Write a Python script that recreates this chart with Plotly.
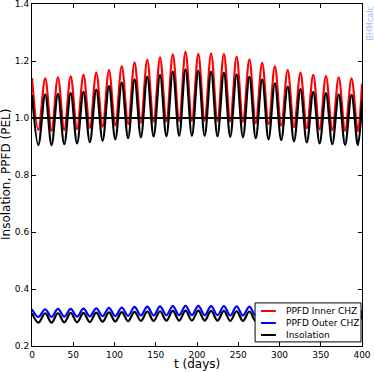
import plotly.graph_objects as go

# times of the peaks and troughs of the oscillation (days)
peak_t = [0.0, 16.0, 31.4, 46.9, 62.4, 77.9, 93.3, 108.8, 124.3, 139.7, 155.2, 170.7, 186.1,
          201.6, 217.1, 232.6, 248.0, 263.5, 279.0, 294.4, 309.9, 325.4, 340.9, 356.3, 371.8, 387.3]
trough_t = [7.7, 23.7, 39.1, 54.6, 70.1, 85.6, 101.0, 116.5, 132.0, 147.4, 162.9, 178.4, 193.8,
            209.3, 224.8, 240.3, 255.7, 271.2, 286.7, 302.1, 317.6, 333.1, 348.6, 364.0, 379.5, 395.0]
end_t = 400.0

# PPFD inner CHZ (red)
inner_peak = [1.140, 1.139, 1.143, 1.146, 1.151, 1.159, 1.168, 1.182, 1.195, 1.205, 1.213, 1.223, 1.233,
              1.225, 1.227, 1.225, 1.215, 1.206, 1.194, 1.182, 1.168, 1.159, 1.151, 1.147, 1.143, 1.139]
inner_trough = [0.958, 0.955, 0.958, 0.961, 0.965, 0.970, 0.974, 0.979, 0.983, 0.986, 0.988, 0.989, 0.990,
                0.990, 0.989, 0.988, 0.986, 0.982, 0.978, 0.973, 0.968, 0.964, 0.960, 0.957, 0.955, 0.954]
inner_end = 1.12

# insolation, inner edge (black, upper)
ins_peak = [1.081, 1.083, 1.085, 1.087, 1.092, 1.100, 1.112, 1.124, 1.136, 1.145, 1.151, 1.163, 1.171,
            1.166, 1.163, 1.159, 1.153, 1.145, 1.136, 1.122, 1.110, 1.101, 1.092, 1.087, 1.083, 1.081]
ins_trough = [0.905, 0.905, 0.908, 0.911, 0.915, 0.920, 0.925, 0.929, 0.932, 0.935, 0.936, 0.937, 0.937,
              0.937, 0.936, 0.934, 0.932, 0.929, 0.925, 0.922, 0.918, 0.914, 0.911, 0.908, 0.906, 0.905]
ins_end = 1.06

# PPFD outer CHZ (blue)
outer_peak = [0.329, 0.329, 0.330, 0.330, 0.331, 0.332, 0.334, 0.335, 0.337, 0.338, 0.339, 0.340, 0.341,
              0.341, 0.340, 0.340, 0.339, 0.338, 0.337, 0.335, 0.334, 0.332, 0.331, 0.330, 0.330, 0.329]
outer_trough = [0.302, 0.302, 0.303, 0.303, 0.304, 0.305, 0.305, 0.306, 0.307, 0.307, 0.308, 0.308, 0.308,
                0.308, 0.308, 0.307, 0.307, 0.306, 0.305, 0.305, 0.304, 0.303, 0.303, 0.302, 0.302, 0.302]
outer_end = 0.325

# insolation, outer edge (black, lower)
ins2_peak = [0.315, 0.315, 0.315, 0.316, 0.316, 0.317, 0.318, 0.319, 0.320, 0.321, 0.322, 0.323, 0.324,
             0.324, 0.323, 0.323, 0.322, 0.321, 0.320, 0.319, 0.318, 0.317, 0.316, 0.316, 0.315, 0.315]
ins2_trough = [0.282, 0.282, 0.283, 0.283, 0.284, 0.285, 0.286, 0.287, 0.288, 0.288, 0.289, 0.289, 0.289,
               0.289, 0.289, 0.288, 0.288, 0.287, 0.286, 0.285, 0.284, 0.284, 0.283, 0.282, 0.282, 0.282]
ins2_end = 0.31

pel_level = 1.0
x_ticks = [0, 50, 100, 150, 200, 250, 300, 350, 400]
y_ticks = [0.2, 0.4, 0.6, 0.8, 1.0, 1.2, 1.4]
legend_names = ["PPFD Inner CHZ", "PPFD Outer CHZ", "Insolation"]
legend_colors = ["#ff0000", "#0000ff", "#000000"]


def zigzag(peaks, troughs, end):
    out = []
    for a, b in zip(peaks, troughs):
        out += [a, b]
    out.append(end)
    return out


t = zigzag(peak_t, trough_t, end_t)

fig = go.Figure()


def AddCurve(y, name, color):
    fig.add_trace(go.Scatter(
        x=t, y=y, mode='lines', name=name, showlegend=False,
        line=dict(color=color, width=2.2, shape='spline', smoothing=1.0),
    ))


AddCurve(zigzag(inner_peak, inner_trough, inner_end), legend_names[0], legend_colors[0])
AddCurve(zigzag(outer_peak, outer_trough, outer_end), legend_names[1], legend_colors[1])
AddCurve(zigzag(ins_peak, ins_trough, ins_end), legend_names[2], legend_colors[2])
AddCurve(zigzag(ins2_peak, ins2_trough, ins2_end), legend_names[2], legend_colors[2])

fig.add_hline(y=pel_level, line=dict(color="black", width=2), opacity=1)

axis_style = dict(
    showline=True, linecolor="black", linewidth=1, mirror="ticks",
    ticks="inside", ticklen=4, tickcolor="black",
    showgrid=False, zeroline=False, automargin=False,
    ticklabeloverflow="allow",
    tickfont=dict(size=9, color="black"),
)

fig.update_xaxes(range=[0, 400], tickvals=x_ticks, ticktext=[str(v) for v in x_ticks], **axis_style)
fig.update_yaxes(range=[0.2, 1.4], tickvals=y_ticks, ticktext=["%.1f" % v for v in y_ticks], **axis_style)

# axis titles
fig.add_annotation(text="t (days)", xref="paper", yref="paper", x=0.5, y=0,
                   yanchor="bottom", yshift=-26, borderpad=0, showarrow=False, font=dict(size=12))
fig.add_annotation(text="Insolation, PPFD (PEL)", xref="paper", yref="paper", x=0, y=0.5,
                   xanchor="right", xshift=-17, textangle=-90, showarrow=False, font=dict(size=12))

# watermark
fig.add_annotation(text="BHMcalc", xref="paper", yref="paper", x=1.0, y=1.0,
                   xanchor="left", yanchor="top", xshift=1, yshift=-1, textangle=-90, showarrow=False,
                   font=dict(size=8, color="#b4b4ff"))

# legend drawn as a box in the lower right of the axes
fig.add_shape(type="rect", xref="paper", yref="paper", x0=0.676, x1=0.997, y0=0.012, y1=0.126,
              line=dict(color="black", width=1), fillcolor="white", opacity=1, layer="above")
row_y = [0.1023, 0.0673, 0.0322]
for name, color, yy in zip(legend_names, legend_colors, row_y):
    fig.add_shape(type="line", xref="paper", yref="paper", x0=0.694, x1=0.739, y0=yy, y1=yy,
                  line=dict(color=color, width=2), opacity=1, layer="above")
    fig.add_annotation(text=name, xref="paper", yref="paper", x=0.764, y=yy,
                       xanchor="left", yanchor="middle", showarrow=False, font=dict(size=9))

fig.update_layout(
    width=374, height=372,
    template="simple_white",
    paper_bgcolor="white", plot_bgcolor="white",
    font=dict(family="DejaVu Sans", color="black"),
    margin=dict(l=32, r=12, t=4, b=26),
    showlegend=False,
)

# the page body has a default 8px margin; drop it so the figure fills the window
fig.write_html("out.html", config={"displayModeBar": False},
               post_script="document.body.style.margin='0';")
